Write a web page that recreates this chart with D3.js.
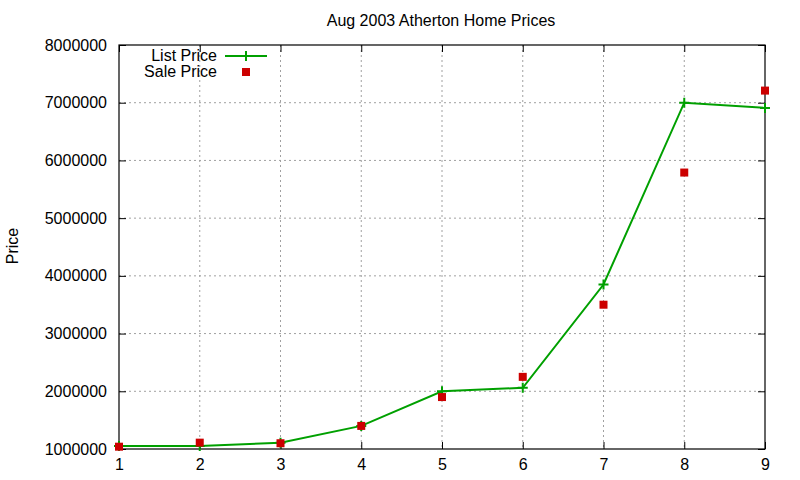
<!DOCTYPE html>
<html>
<head>
<meta charset="utf-8">
<script src="https://cdn.jsdelivr.net/npm/d3@7"></script>
<style>
  body { margin: 0; background: #fff; }
  svg text { font-family: "Liberation Sans", Arial, sans-serif; fill: #000; }
</style>
</head>
<body>
<div id="plot"></div>
<script>
// chart values
const houses = [1, 2, 3, 4, 5, 6, 7, 8, 9];
const listPrice = [1050000, 1050000, 1110000, 1400000, 2000000, 2060000, 3850000, 7000000, 6910000];
const salePrice = [1040000, 1110000, 1100000, 1400000, 1900000, 2250000, 3500000, 5790000, 7210000];
const yTicks = [1000000, 2000000, 3000000, 4000000, 5000000, 6000000, 7000000, 8000000];
const xTicks = [1, 2, 3, 4, 5, 6, 7, 8, 9];

const w = 800, h = 480;
const margin = {top: 45, right: 35, bottom: 31, left: 119};
const innerWidth = w - margin.left - margin.right;
const innerHeight = h - margin.top - margin.bottom;

const xScale = d3.scaleLinear().domain([1, 9]).range([0, innerWidth]);
const yScale = d3.scaleLinear().domain([1000000, 8000000]).range([innerHeight, 0]);

const svg = d3.select("div#plot").append("svg")
  .attr("width", w)
  .attr("height", h);

const g = svg.append("g")
  .attr("transform", `translate(${margin.left}, ${margin.top})`);

// grid
g.append("g")
  .selectAll("line.hgrid")
  .data(yTicks.slice(1, -1))
  .join("line")
  .attr("x1", 0).attr("x2", innerWidth)
  .attr("y1", d => yScale(d)).attr("y2", d => yScale(d))
  .attr("stroke", "#a0a0a0").attr("stroke-dasharray", "2,3");

g.append("g")
  .selectAll("line.vgrid")
  .data(xTicks.slice(1, -1))
  .join("line")
  .attr("x1", d => xScale(d)).attr("x2", d => xScale(d))
  .attr("y1", 0).attr("y2", innerHeight)
  .attr("stroke", "#a0a0a0").attr("stroke-dasharray", "2,3");

// axes (gnuplot style, ticks inward and mirrored)
const yAxis = d3.axisLeft(yScale).tickValues(yTicks).tickSize(-7).tickPadding(12).tickFormat(d3.format("d"));
const yAxisR = d3.axisRight(yScale).tickValues(yTicks).tickSize(-7).tickFormat("");
const xAxis = d3.axisBottom(xScale).tickValues(xTicks).tickSize(-7).tickPadding(12).tickFormat(d3.format("d"));
const xAxisT = d3.axisTop(xScale).tickValues(xTicks).tickSize(-7).tickFormat("");

function styleAxis(sel) {
  sel.select(".domain").remove();
  sel.selectAll("line").attr("stroke", "#000");
  sel.selectAll("text").style("font-size", "16px");
}

g.append("g").call(yAxis).call(styleAxis);
g.append("g").attr("transform", `translate(${innerWidth},0)`).call(yAxisR).call(styleAxis);
g.append("g").attr("transform", `translate(0,${innerHeight})`).call(xAxis).call(styleAxis)
  .selectAll("text").attr("dy", "0.55em");
g.append("g").call(xAxisT).call(styleAxis);

g.append("rect")
  .attr("width", innerWidth).attr("height", innerHeight)
  .attr("fill", "none").attr("stroke", "#000").attr("stroke-width", 1.2);

// list price line
const green = "#00a000", red = "#cc0000";
const line = d3.line()
  .x((d, i) => xScale(houses[i]))
  .y(d => yScale(d));

g.append("path")
  .datum(listPrice)
  .attr("d", line)
  .attr("fill", "none")
  .attr("stroke", green)
  .attr("stroke-width", 2);

g.selectAll("path.cross")
  .data(listPrice)
  .join("path")
  .attr("class", "cross")
  .attr("d", (d, i) => {
    const x = xScale(houses[i]), y = yScale(d), s = 5;
    return `M${x - s},${y}H${x + s}M${x},${y - s}V${y + s}`;
  })
  .attr("stroke", green)
  .attr("stroke-width", 2);

// sale price points
g.selectAll("rect.sale")
  .data(salePrice)
  .join("rect")
  .attr("class", "sale")
  .attr("x", (d, i) => xScale(houses[i]) - 4)
  .attr("y", d => yScale(d) - 4)
  .attr("width", 8)
  .attr("height", 8)
  .attr("fill", red);

// title
svg.append("text")
  .attr("x", 441).attr("y", 26)
  .attr("text-anchor", "middle")
  .style("font-size", "16px")
  .text("Aug 2003 Atherton Home Prices");

// y label
svg.append("text")
  .attr("transform", "translate(18, 246) rotate(-90)")
  .attr("text-anchor", "middle")
  .style("font-size", "16px")
  .text("Price");

// legend
const legend = svg.append("g");
legend.append("text").attr("x", 217).attr("y", 61).attr("text-anchor", "end")
  .style("font-size", "16px").text("List Price");
legend.append("line").attr("x1", 225).attr("x2", 267).attr("y1", 56).attr("y2", 56)
  .attr("stroke", green).attr("stroke-width", 2);
legend.append("path").attr("d", "M241,56H251M246,51V61")
  .attr("stroke", green).attr("stroke-width", 2);
legend.append("text").attr("x", 217).attr("y", 77).attr("text-anchor", "end")
  .style("font-size", "16px").text("Sale Price");
legend.append("rect").attr("x", 242).attr("y", 68).attr("width", 8).attr("height", 8)
  .attr("fill", red);
</script>
</body>
</html>
